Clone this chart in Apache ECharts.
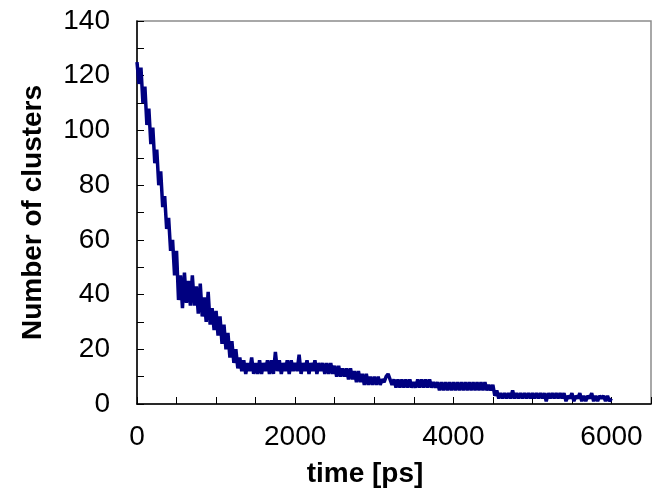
<!DOCTYPE html>
<html>
<head>
<meta charset="utf-8">
<script src="https://cdn.jsdelivr.net/npm/echarts@6/dist/echarts.min.js"></script>
<style>html,body{margin:0;padding:0;background:#fff}#c{width:662px;height:494px}</style>
</head>
<body>
<div id="c"></div>
<script>
// sample spacing in ps
var timeStep = 25;
// number of clusters sampled every 25 ps, from t = 0 to t = 6000
var clusters = [
  125,117,123,110,116,102,108,95,101,88,93,80,85,72,76,64,68,56,60,47,56,
  38,47,35,48,37,45,36,47,36,43,33,44,32,39,30,41,29,35,27,34,
  25,32,22,29,20,26,17,23,15,20,13,17,12,16,11,15,12,17,11,15,
  11,16,11,15,12,16,11,16,11,19,12,16,11,15,12,16,11,16,12,15,
  12,18,11,15,12,16,11,15,12,16,11,15,12,15,11,15,11,15,11,14,
  10,14,10,13,10,13,9,13,9,12,8,12,8,11,7,11,7,10,7,10,
  7,10,7,9,8,10,11,9,7,9,6,9,6,9,6,9,6,9,6,8,
  6,9,6,9,6,9,6,9,6,8,6,8,5,8,5,8,5,8,5,8,
  5,8,5,8,5,8,5,8,5,8,5,8,5,8,5,8,5,7,5,7,
  3,5,2,4,2,4,2,4,2,5,2,4,2,4,2,4,2,4,2,4,
  2,4,2,4,2,4,1,4,2,4,2,4,2,4,2,4,1,3,2,4,
  1,3,2,4,1,3,1,3,2,4,1,3,1,3,2,3,1,3,1,2
];
var xLabels = [0, 2000, 4000, 6000];
var yLabels = [0, 20, 40, 60, 80, 100, 120, 140];
var xTitle = 'time [ps]';
var yTitle = 'Number of clusters';

var pts = clusters.map(function (v, i) { return [i * timeStep, v]; });
var chart = echarts.init(document.getElementById('c'), null, {renderer: 'canvas'});
var font = 'Liberation Sans, Arial, sans-serif';
chart.setOption({
  animation: false,
  grid: {left: 137, right: 11, top: 21, bottom: 90, show: true, borderColor: '#8c8c8c', borderWidth: 1.5, backgroundColor: 'transparent'},
  xAxis: {
    type: 'value', min: 0, max: 6500, interval: 500,
    axisLine: {show: true, onZero: false, lineStyle: {color: '#000', width: 1.5}},
    axisTick: {show: true, inside: true, length: 7, lineStyle: {color: '#000', width: 1}},
    splitLine: {show: false},
    axisLabel: {
      margin: 19, fontSize: 28, color: '#000', fontFamily: font,
      formatter: function (v) { return xLabels.indexOf(v) >= 0 ? String(v) : ''; }
    },
    name: xTitle, nameLocation: 'middle', nameGap: 56,
    nameTextStyle: {fontSize: 28, fontWeight: 'bold', color: '#000', fontFamily: font, padding: [0, 58, 0, 0]}
  },
  yAxis: {
    type: 'value', min: 0, max: 140, interval: 10,
    axisLine: {show: true, lineStyle: {color: '#000', width: 1.5}},
    axisTick: {show: true, inside: true, length: 7, lineStyle: {color: '#000', width: 1}},
    splitLine: {show: false},
    axisLabel: {
      margin: 27, fontSize: 28, color: '#000', fontFamily: font,
      formatter: function (v) { return yLabels.indexOf(v) >= 0 ? String(v) : ''; }
    },
    name: yTitle, nameLocation: 'middle', nameGap: 90, nameRotate: 90,
    nameTextStyle: {fontSize: 28, fontWeight: 'bold', color: '#000', fontFamily: font}
  },
  series: [{
    type: 'line', data: pts, showSymbol: false, symbol: 'none',
    lineStyle: {color: '#000080', width: 3.5}, itemStyle: {color: '#000080'}
  }]
});
</script>
</body>
</html>
